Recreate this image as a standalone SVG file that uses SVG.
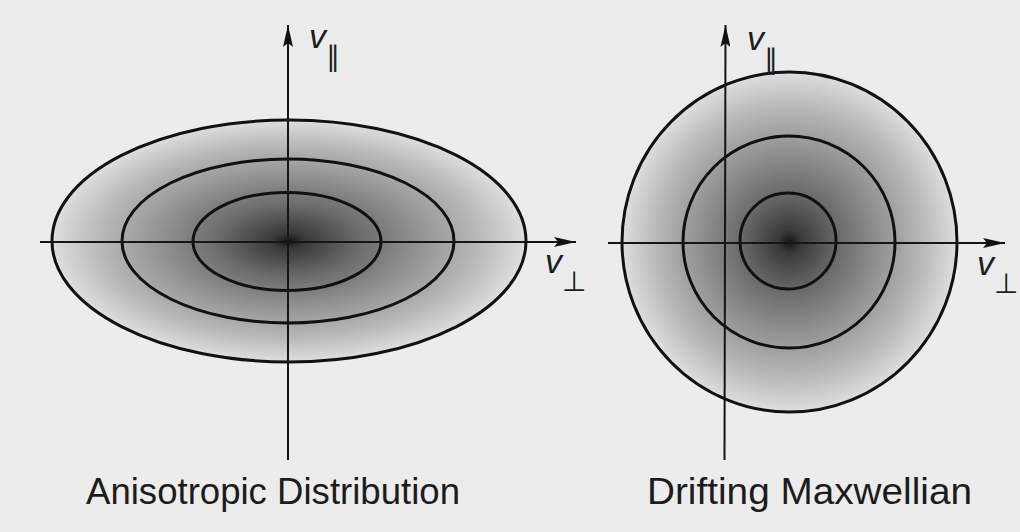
<svg xmlns="http://www.w3.org/2000/svg" width="1020" height="532" viewBox="0 0 1020 532">
<style>
.contour{fill:none;stroke:#111;stroke-width:3}
.axis{fill:none;stroke:#151515;stroke-width:2}
.v{font-family:"Liberation Sans",Arial,sans-serif;font-style:italic;font-size:34px;fill:#1e1e1e}
.sub{font-family:"DejaVu Sans",sans-serif;font-size:28px;fill:#1e1e1e}
.cap{font-family:"Liberation Sans",Arial,sans-serif;font-size:37px;fill:#1c1c1c}
</style>
<defs>
<radialGradient id="shade" cx="0.5" cy="0.5" r="0.5">
<stop offset="0" stop-color="#151515"/>
<stop offset="0.07" stop-color="#3a3a3a"/>
<stop offset="0.3" stop-color="#6c6c6c"/>
<stop offset="0.55" stop-color="#939393"/>
<stop offset="0.8" stop-color="#b9b9b9"/>
<stop offset="1" stop-color="#dedede"/>
</radialGradient>
<marker id="arr" viewBox="0 0 22 10" refX="22" refY="5" markerWidth="22" markerHeight="10" markerUnits="userSpaceOnUse" orient="auto">
<path d="M0,0 L22,5 L0,10 L4,5 z" fill="#111"/>
</marker>
</defs>
<rect width="1020" height="532" fill="#ececec"/>
<g id="left-distribution">
<ellipse cx="289" cy="241" rx="237" ry="121" fill="url(#shade)"/>
<ellipse class="contour" cx="289" cy="241" rx="237" ry="121"/>
<ellipse class="contour" cx="288" cy="241" rx="166" ry="82"/>
<ellipse class="contour" cx="287" cy="241.5" rx="94" ry="49"/>
</g>
<g id="right-distribution">
<ellipse cx="789.5" cy="242" rx="167.5" ry="170" fill="url(#shade)"/>
<ellipse class="contour" cx="789.5" cy="242" rx="167.5" ry="170"/>
<circle class="contour" cx="789" cy="242" r="106"/>
<circle class="contour" cx="788" cy="241" r="48"/>
</g>
<g id="axes">
<line class="axis" x1="40" y1="242" x2="576" y2="242" marker-end="url(#arr)"/>
<line class="axis" x1="288" y1="460" x2="288" y2="25" marker-end="url(#arr)"/>
<line class="axis" x1="608" y1="243" x2="1005" y2="243" marker-end="url(#arr)"/>
<line class="axis" x1="724.5" y1="460" x2="725.5" y2="25" marker-end="url(#arr)"/>
</g>
<g id="labels">
<text><tspan class="v" x="309" y="48">v</tspan><tspan class="sub" x="326" y="66">∥</tspan></text>
<text><tspan class="v" x="545" y="273">v</tspan><tspan class="sub" x="562" y="291">⊥</tspan></text>
<text><tspan class="v" x="747" y="50">v</tspan><tspan class="sub" x="764" y="69">∥</tspan></text>
<text><tspan class="v" x="977" y="275">v</tspan><tspan class="sub" x="994" y="293">⊥</tspan></text>
<text class="cap" x="86" y="504" textLength="374" lengthAdjust="spacingAndGlyphs">Anisotropic Distribution</text>
<text class="cap" x="647" y="504" textLength="325" lengthAdjust="spacingAndGlyphs">Drifting Maxwellian</text>
</g>
</svg>
